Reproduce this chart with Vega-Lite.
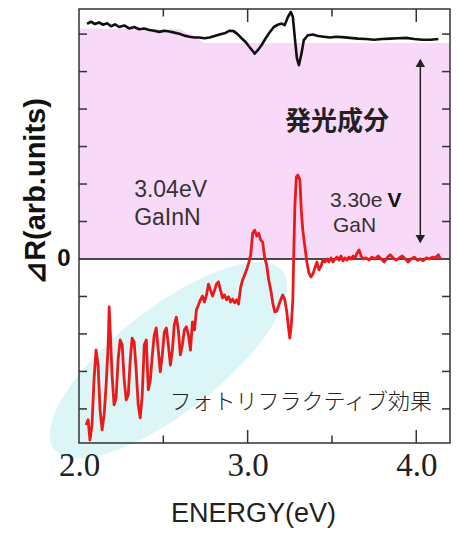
{
  "$schema": "https://vega.github.io/schema/vega-lite/v6.json",
  "width": 371,
  "height": 434,
  "autosize": {"type": "none"},
  "padding": {"left": 79, "top": 9, "right": 8, "bottom": 91},
  "background": "white",
  "config": {
    "view": {"stroke": null},
    "axis": {"grid": false, "domain": false, "zindex": 1}
  },
  "datasets": {
    "black": [
      {"E":2.048,"v":6.27},{"E":2.071,"v":6.33},{"E":2.095,"v":6.27},{"E":2.119,"v":6.31},{"E":2.143,"v":6.25},{"E":2.167,"v":6.29},{"E":2.190,"v":6.21},{"E":2.214,"v":6.26},{"E":2.238,"v":6.19},{"E":2.268,"v":6.23},{"E":2.298,"v":6.15},{"E":2.327,"v":6.19},{"E":2.357,"v":6.13},{"E":2.387,"v":6.15},{"E":2.417,"v":6.11},{"E":2.446,"v":6.09},{"E":2.476,"v":6.06},{"E":2.506,"v":6.09},{"E":2.536,"v":6.07},{"E":2.565,"v":6.04},{"E":2.595,"v":6.01},{"E":2.625,"v":5.96},{"E":2.655,"v":5.93},{"E":2.685,"v":5.91},{"E":2.714,"v":5.91},{"E":2.744,"v":5.89},{"E":2.774,"v":5.91},{"E":2.804,"v":5.95},{"E":2.833,"v":5.99},{"E":2.869,"v":6.03},{"E":2.893,"v":6.09},{"E":2.917,"v":6.08},{"E":2.940,"v":6.00},{"E":2.964,"v":5.89},{"E":2.988,"v":5.79},{"E":3.012,"v":5.65},{"E":3.030,"v":5.55},{"E":3.042,"v":5.48},{"E":3.060,"v":5.57},{"E":3.083,"v":5.71},{"E":3.107,"v":5.89},{"E":3.131,"v":6.05},{"E":3.155,"v":6.19},{"E":3.179,"v":6.25},{"E":3.202,"v":6.28},{"E":3.220,"v":6.24},{"E":3.238,"v":6.45},{"E":3.256,"v":6.59},{"E":3.268,"v":6.46},{"E":3.280,"v":5.89},{"E":3.292,"v":5.36},{"E":3.304,"v":5.17},{"E":3.321,"v":5.52},{"E":3.333,"v":5.84},{"E":3.357,"v":5.97},{"E":3.387,"v":5.99},{"E":3.417,"v":5.95},{"E":3.452,"v":5.93},{"E":3.488,"v":5.91},{"E":3.524,"v":5.93},{"E":3.560,"v":5.92},{"E":3.607,"v":5.90},{"E":3.655,"v":5.88},{"E":3.702,"v":5.87},{"E":3.750,"v":5.85},{"E":3.798,"v":5.87},{"E":3.845,"v":5.88},{"E":3.893,"v":5.89},{"E":3.940,"v":5.90},{"E":3.988,"v":5.87},{"E":4.036,"v":5.85},{"E":4.083,"v":5.85},{"E":4.131,"v":5.87}
    ],
    "red": [
      {"E":2.042,"v":-4.43},{"E":2.054,"v":-4.29},{"E":2.065,"v":-4.83},{"E":2.077,"v":-4.43},{"E":2.089,"v":-3.23},{"E":2.101,"v":-2.43},{"E":2.113,"v":-2.83},{"E":2.125,"v":-4.03},{"E":2.137,"v":-4.56},{"E":2.149,"v":-4.16},{"E":2.161,"v":-3.36},{"E":2.173,"v":-2.29},{"E":2.179,"v":-1.28},{"E":2.185,"v":-1.89},{"E":2.196,"v":-3.09},{"E":2.208,"v":-3.89},{"E":2.220,"v":-3.71},{"E":2.232,"v":-2.69},{"E":2.244,"v":-2.16},{"E":2.256,"v":-2.29},{"E":2.268,"v":-3.23},{"E":2.280,"v":-3.76},{"E":2.292,"v":-3.63},{"E":2.304,"v":-2.69},{"E":2.315,"v":-2.11},{"E":2.327,"v":-2.21},{"E":2.339,"v":-2.96},{"E":2.351,"v":-3.89},{"E":2.363,"v":-4.24},{"E":2.375,"v":-3.63},{"E":2.387,"v":-2.29},{"E":2.399,"v":-2.16},{"E":2.411,"v":-3.49},{"E":2.423,"v":-3.23},{"E":2.435,"v":-2.56},{"E":2.446,"v":-2.03},{"E":2.458,"v":-1.84},{"E":2.470,"v":-2.43},{"E":2.482,"v":-3.01},{"E":2.494,"v":-2.56},{"E":2.506,"v":-1.95},{"E":2.518,"v":-1.84},{"E":2.530,"v":-2.29},{"E":2.542,"v":-2.83},{"E":2.554,"v":-2.43},{"E":2.565,"v":-1.76},{"E":2.577,"v":-1.55},{"E":2.589,"v":-1.89},{"E":2.601,"v":-2.56},{"E":2.613,"v":-2.29},{"E":2.625,"v":-1.89},{"E":2.637,"v":-1.81},{"E":2.649,"v":-2.03},{"E":2.661,"v":-2.43},{"E":2.673,"v":-1.68},{"E":2.685,"v":-1.89},{"E":2.696,"v":-1.36},{"E":2.708,"v":-1.23},{"E":2.720,"v":-1.09},{"E":2.732,"v":-0.99},{"E":2.744,"v":-1.15},{"E":2.756,"v":-0.96},{"E":2.768,"v":-0.67},{"E":2.780,"v":-0.83},{"E":2.792,"v":-0.99},{"E":2.804,"v":-0.83},{"E":2.815,"v":-0.67},{"E":2.827,"v":-0.61},{"E":2.839,"v":-0.83},{"E":2.851,"v":-1.04},{"E":2.863,"v":-0.96},{"E":2.875,"v":-1.09},{"E":2.887,"v":-1.01},{"E":2.899,"v":-1.15},{"E":2.911,"v":-1.07},{"E":2.923,"v":-1.17},{"E":2.935,"v":-1.09},{"E":2.946,"v":-1.20},{"E":2.958,"v":-0.77},{"E":2.970,"v":-0.56},{"E":2.982,"v":-0.43},{"E":2.994,"v":-0.29},{"E":3.006,"v":-0.11},{"E":3.018,"v":0.11},{"E":3.030,"v":0.69},{"E":3.042,"v":0.77},{"E":3.054,"v":0.61},{"E":3.065,"v":0.69},{"E":3.077,"v":0.51},{"E":3.089,"v":0.45},{"E":3.101,"v":0.03},{"E":3.113,"v":-0.16},{"E":3.125,"v":-0.56},{"E":3.137,"v":-0.83},{"E":3.149,"v":-1.17},{"E":3.161,"v":-1.41},{"E":3.173,"v":-1.39},{"E":3.185,"v":-1.23},{"E":3.196,"v":-1.09},{"E":3.208,"v":-0.96},{"E":3.220,"v":-1.09},{"E":3.232,"v":-1.41},{"E":3.244,"v":-1.89},{"E":3.250,"v":-2.11},{"E":3.259,"v":-1.76},{"E":3.268,"v":-1.09},{"E":3.274,"v":0.24},{"E":3.280,"v":1.39},{"E":3.289,"v":2.19},{"E":3.298,"v":2.24},{"E":3.310,"v":2.11},{"E":3.318,"v":1.31},{"E":3.327,"v":0.77},{"E":3.339,"v":0.35},{"E":3.351,"v":-0.08},{"E":3.363,"v":-0.37},{"E":3.375,"v":-0.48},{"E":3.387,"v":-0.40},{"E":3.399,"v":-0.24},{"E":3.411,"v":-0.08},{"E":3.423,"v":-0.29},{"E":3.435,"v":-0.19},{"E":3.446,"v":-0.03},{"E":3.458,"v":-0.08},{"E":3.470,"v":0.00},{"E":3.482,"v":-0.08},{"E":3.494,"v":0.03},{"E":3.506,"v":-0.08},{"E":3.518,"v":0.00},{"E":3.530,"v":0.05},{"E":3.542,"v":-0.03},{"E":3.554,"v":0.08},{"E":3.565,"v":-0.05},{"E":3.577,"v":0.03},{"E":3.589,"v":-0.03},{"E":3.601,"v":0.05},{"E":3.613,"v":0.00},{"E":3.625,"v":0.08},{"E":3.637,"v":0.03},{"E":3.649,"v":0.16},{"E":3.661,"v":0.24},{"E":3.673,"v":0.08},{"E":3.685,"v":0.00},{"E":3.702,"v":0.03},{"E":3.720,"v":-0.03},{"E":3.738,"v":0.05},{"E":3.756,"v":0.00},{"E":3.774,"v":0.08},{"E":3.792,"v":0.00},{"E":3.810,"v":-0.08},{"E":3.827,"v":0.03},{"E":3.845,"v":0.11},{"E":3.863,"v":0.03},{"E":3.881,"v":-0.03},{"E":3.899,"v":0.03},{"E":3.917,"v":0.08},{"E":3.935,"v":0.00},{"E":3.952,"v":-0.08},{"E":3.970,"v":0.00},{"E":3.988,"v":0.05},{"E":4.006,"v":-0.03},{"E":4.024,"v":0.00},{"E":4.042,"v":-0.05},{"E":4.060,"v":0.03},{"E":4.077,"v":0.00},{"E":4.095,"v":0.05},{"E":4.113,"v":0.03},{"E":4.131,"v":0.11},{"E":4.143,"v":0.00}
    ],
    "xMajor": [{"E":3.0,"v":-4.91},{"E":4.0,"v":-4.91},{"E":3.0,"v":6.67},{"E":4.0,"v":6.67}],
    "xMinor": [{"E":2.5,"v":-4.91},{"E":3.5,"v":-4.91},{"E":2.5,"v":6.67},{"E":3.5,"v":6.67}],
    "yTicks": [
      {"E":2.0,"v":-4},{"E":2.0,"v":-3},{"E":2.0,"v":-2},{"E":2.0,"v":-1},{"E":2.0,"v":1},{"E":2.0,"v":2},{"E":2.0,"v":3},{"E":2.0,"v":4},{"E":2.0,"v":5},{"E":2.0,"v":6},
      {"E":4.2,"v":-4},{"E":4.2,"v":-3},{"E":4.2,"v":-2},{"E":4.2,"v":-1},{"E":4.2,"v":1},{"E":4.2,"v":2},{"E":4.2,"v":3},{"E":4.2,"v":4},{"E":4.2,"v":5},{"E":4.2,"v":6}
    ]
  },
  "layer": [
    {
      "data": {"values": [{"E": 2.53, "v": -2.7}]},
      "mark": {"type": "point", "shape": "M -0.788 0.616 A 1 0.36 -38 1 1 0.788 -0.616 A 1 0.36 -38 1 1 -0.788 0.616 Z", "filled": true, "size": 84000, "color": "#dcf5f7", "opacity": 1, "strokeWidth": 0},
      "encoding": {
        "x": {"field": "E", "type": "quantitative", "scale": {"domain": [2.0, 4.2], "nice": false, "zero": false}},
        "y": {"field": "v", "type": "quantitative", "scale": {"domain": [-4.91, 6.67], "nice": false, "zero": false}}
      }
    },
    {
      "data": {"values": [{"E": 2.0, "v": 6.15}, {"E": 2.6, "v": 6.13}, {"E": 2.7, "v": 5.9}, {"E": 2.74, "v": 5.76}, {"E": 4.2, "v": 5.76}]},
      "mark": {"type": "area", "color": "#f9d9f8", "opacity": 1},
      "encoding": {
        "x": {"field": "E", "type": "quantitative", "scale": {"domain": [2.0, 4.2], "nice": false, "zero": false}},
        "y": {"field": "v", "type": "quantitative", "scale": {"domain": [-4.91, 6.67], "nice": false, "zero": false}},
        "y2": {"datum": 0}
      }
    },
    {
      "data": {"values": [{"E": 2.0, "E2": 4.2, "v": 0}]},
      "mark": {"type": "rule", "color": "#111", "strokeWidth": 1.5},
      "encoding": {
        "x": {"field": "E", "type": "quantitative", "scale": {"domain": [2.0, 4.2], "nice": false, "zero": false}},
        "x2": {"field": "E2"},
        "y": {"field": "v", "type": "quantitative", "scale": {"domain": [-4.91, 6.67], "nice": false, "zero": false}}
      }
    },
    {
      "data": {"name": "black"},
      "mark": {"type": "line", "color": "#111", "strokeWidth": 2.6, "strokeJoin": "round"},
      "encoding": {
        "x": {"field": "E", "type": "quantitative", "scale": {"domain": [2.0, 4.2], "nice": false, "zero": false},
          "axis": {"orient": "bottom", "values": [2, 2.5, 3, 3.5, 4], "labelExpr": "datum.value % 1 === 0 ? format(datum.value, '.1f') : ''",
            "tickSize": 0, "tickOpacity": 0, "zindex": 2,
            "labelFont": "Liberation Serif", "labelFontSize": 33, "labelColor": "#222", "labelPadding": 6, "labelFlush": false, "labelOverlap": false, "labelBound": false,
            "title": "ENERGY(eV)", "titleFont": "Liberation Sans", "titleFontSize": 27, "titleFontWeight": "normal", "titleColor": "#222",
            "titleX": 174, "titleY": 70, "titleBaseline": "middle", "titleAlign": "center"}},
        "y": {"field": "v", "type": "quantitative", "scale": {"domain": [-4.91, 6.67], "nice": false, "zero": false},
          "axis": {"orient": "left", "values": [-4, -3, -2, -1, 0, 1, 2, 3, 4, 5, 6], "labelExpr": "datum.value === 0 ? '0' : ''",
            "tickSize": 0, "tickOpacity": 0, "zindex": 2,
            "labelFont": "Liberation Sans", "labelFontSize": 24, "labelFontWeight": "bold", "labelColor": "#111", "labelPadding": 9, "labelOverlap": false, "labelBound": false,
            "title": "⊿R(arb.units)", "titleFont": "Liberation Sans", "titleFontSize": 29, "titleFontWeight": "bold", "titleColor": "#111",
            "titleX": -44, "titleY": 182, "titleAngle": -90, "titleBaseline": "middle", "titleAlign": "center"}}
      }
    },
    {
      "data": {"name": "red"},
      "mark": {"type": "line", "color": "#ea1a1a", "strokeWidth": 2.8, "strokeJoin": "round"},
      "encoding": {
        "x": {"field": "E", "type": "quantitative", "scale": {"domain": [2.0, 4.2], "nice": false, "zero": false}},
        "y": {"field": "v", "type": "quantitative", "scale": {"domain": [-4.91, 6.67], "nice": false, "zero": false}}
      }
    },
    {
      "data": {"values": [{"E": 4.024, "v": 0.45, "v2": 5.3}]},
      "mark": {"type": "rule", "color": "#222", "strokeWidth": 1.5},
      "encoding": {
        "x": {"field": "E", "type": "quantitative", "scale": {"domain": [2.0, 4.2], "nice": false, "zero": false}},
        "y": {"field": "v", "type": "quantitative", "scale": {"domain": [-4.91, 6.67], "nice": false, "zero": false}},
        "y2": {"field": "v2"}
      }
    },
    {
      "data": {"values": [{"E": 4.024, "v": 5.23, "s": "triangle-up"}, {"E": 4.024, "v": 0.53, "s": "triangle-down"}]},
      "mark": {"type": "point", "filled": true, "size": 90, "color": "#222", "opacity": 1},
      "encoding": {
        "x": {"field": "E", "type": "quantitative", "scale": {"domain": [2.0, 4.2], "nice": false, "zero": false}},
        "y": {"field": "v", "type": "quantitative", "scale": {"domain": [-4.91, 6.67], "nice": false, "zero": false}},
        "shape": {"field": "s", "type": "nominal", "scale": null, "legend": null}
      }
    },
    {
      "data": {"values": [{"E": 3.53, "v": 3.65, "t": "発光成分"}]},
      "mark": {"type": "text", "font": "Noto Sans CJK JP", "fontSize": 26, "fontWeight": "bold", "color": "#222", "align": "center", "baseline": "middle"},
      "encoding": {
        "x": {"field": "E", "type": "quantitative", "scale": {"domain": [2.0, 4.2], "nice": false, "zero": false}},
        "y": {"field": "v", "type": "quantitative", "scale": {"domain": [-4.91, 6.67], "nice": false, "zero": false}},
        "text": {"field": "t"}
      }
    },
    {
      "data": {"values": [{"E": 2.327, "v": 1.83, "t": "3.04eV"}, {"E": 2.327, "v": 1.09, "t": "GaInN"}]},
      "mark": {"type": "text", "font": "Liberation Sans", "fontSize": 23, "color": "#333", "align": "left", "baseline": "middle"},
      "encoding": {
        "x": {"field": "E", "type": "quantitative", "scale": {"domain": [2.0, 4.2], "nice": false, "zero": false}},
        "y": {"field": "v", "type": "quantitative", "scale": {"domain": [-4.91, 6.67], "nice": false, "zero": false}},
        "text": {"field": "t"}
      }
    },
    {
      "data": {"values": [{"E": 3.488, "v": 1.56, "t": "3.30e"}, {"E": 3.506, "v": 0.88, "t": "GaN"}]},
      "mark": {"type": "text", "font": "Liberation Sans", "fontSize": 21, "color": "#333", "align": "left", "baseline": "middle"},
      "encoding": {
        "x": {"field": "E", "type": "quantitative", "scale": {"domain": [2.0, 4.2], "nice": false, "zero": false}},
        "y": {"field": "v", "type": "quantitative", "scale": {"domain": [-4.91, 6.67], "nice": false, "zero": false}},
        "text": {"field": "t"}
      }
    },
    {
      "data": {"values": [{"E": 3.83, "v": 1.56, "t": "V"}]},
      "mark": {"type": "text", "font": "Liberation Sans", "fontSize": 21, "fontWeight": "bold", "color": "#111", "align": "left", "baseline": "middle"},
      "encoding": {
        "x": {"field": "E", "type": "quantitative", "scale": {"domain": [2.0, 4.2], "nice": false, "zero": false}},
        "y": {"field": "v", "type": "quantitative", "scale": {"domain": [-4.91, 6.67], "nice": false, "zero": false}},
        "text": {"field": "t"}
      }
    },
    {
      "data": {"values": [{"E": 3.315, "v": -3.81, "t": "フォトリフラクティブ効果"}]},
      "mark": {"type": "text", "font": "Noto Sans CJK JP", "fontSize": 22, "fontWeight": 300, "color": "#222", "align": "center", "baseline": "middle"},
      "encoding": {
        "x": {"field": "E", "type": "quantitative", "scale": {"domain": [2.0, 4.2], "nice": false, "zero": false}},
        "y": {"field": "v", "type": "quantitative", "scale": {"domain": [-4.91, 6.67], "nice": false, "zero": false}},
        "text": {"field": "t"}
      }
    },
    {
      "data": {"name": "xMajor"},
      "mark": {"type": "tick", "orient": "vertical", "size": 26, "thickness": 1.5, "color": "#333", "opacity": 1, "clip": true},
      "encoding": {
        "x": {"field": "E", "type": "quantitative", "scale": {"domain": [2.0, 4.2], "nice": false, "zero": false}},
        "y": {"field": "v", "type": "quantitative", "scale": {"domain": [-4.91, 6.67], "nice": false, "zero": false}}
      }
    },
    {
      "data": {"name": "xMinor"},
      "mark": {"type": "tick", "orient": "vertical", "size": 15, "thickness": 1.5, "color": "#333", "opacity": 1, "clip": true},
      "encoding": {
        "x": {"field": "E", "type": "quantitative", "scale": {"domain": [2.0, 4.2], "nice": false, "zero": false}},
        "y": {"field": "v", "type": "quantitative", "scale": {"domain": [-4.91, 6.67], "nice": false, "zero": false}}
      }
    },
    {
      "data": {"name": "yTicks"},
      "mark": {"type": "tick", "orient": "horizontal", "size": 16, "thickness": 1.5, "color": "#333", "opacity": 1, "clip": true},
      "encoding": {
        "x": {"field": "E", "type": "quantitative", "scale": {"domain": [2.0, 4.2], "nice": false, "zero": false}},
        "y": {"field": "v", "type": "quantitative", "scale": {"domain": [-4.91, 6.67], "nice": false, "zero": false}}
      }
    },
    {
      "data": {"values": [{"E": 2.0, "E2": 4.2, "v": -4.91, "v2": 6.67}]},
      "mark": {"type": "rect", "fill": null, "fillOpacity": 0, "stroke": "#333", "strokeWidth": 1.5},
      "encoding": {
        "x": {"field": "E", "type": "quantitative", "scale": {"domain": [2.0, 4.2], "nice": false, "zero": false}},
        "x2": {"field": "E2"},
        "y": {"field": "v", "type": "quantitative", "scale": {"domain": [-4.91, 6.67], "nice": false, "zero": false}},
        "y2": {"field": "v2"}
      }
    }
  ]
}
